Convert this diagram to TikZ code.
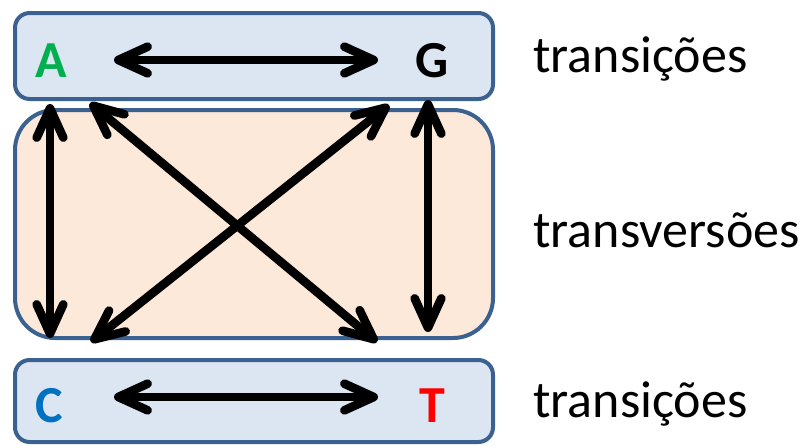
\documentclass[tikz,border=0pt]{standalone}
\usepackage{fontspec}
\setmainfont{Carlito}
\usetikzlibrary{arrows.meta}
\definecolor{frame}{HTML}{3B6190}
\definecolor{bluefill}{HTML}{DCE6F2}
\definecolor{peachfill}{HTML}{FDE9D9}
\definecolor{agreen}{HTML}{00B050}
\definecolor{cblue}{HTML}{0070C0}
\definecolor{tred}{HTML}{FF0000}
\tikzset{
  panel/.style={draw=frame, line width=3pt},
  base/.style={font=\fontsize{39}{47}\selectfont\bfseries, anchor=base, inner sep=0pt},
  caption/.style={font=\fontsize{39}{47}\selectfont, anchor=base west, inner sep=0pt},
  mutarrow/.style={line width=6.5pt,
    arrows={Straight Barb[length=22pt, width=20pt, line cap=round, line join=round]-Straight Barb[length=22pt, width=20pt, line cap=round, line join=round]}}
}
\begin{document}
\begin{tikzpicture}[x=0.75pt, y=-0.75pt]
\useasboundingbox (0,0) rectangle (803,446);
% three panels
\draw[panel, fill=bluefill, rounded corners=11pt] (15,13) rectangle (493,99);
\draw[panel, fill=peachfill, rounded corners=30pt] (15,110) rectangle (493,338);
\draw[panel, fill=bluefill, rounded corners=11pt] (15,360) rectangle (493,442);
% bases
\node[base, text=agreen] (A) at (51,77) {A};
\node[base] (G) at (432,77) {G};
\node[base, text=cblue] (C) at (49,422) {C};
\node[base, text=tred] (T) at (432,422) {T};
% arrow end points
\coordinate (aR) at (114,60);
\coordinate (gL) at (378,60);
\coordinate (cR) at (114,397);
\coordinate (tL) at (378,397);
\coordinate (aDown) at (50,104);
\coordinate (cUp) at (50,338);
\coordinate (gDown) at (428,100);
\coordinate (tUp) at (428,332);
\coordinate (aDiag) at (90,103);
\coordinate (tDiag) at (377,342);
\coordinate (gDiag) at (389,105);
\coordinate (cDiag) at (91,342);
% transitions and transversions
\draw[mutarrow] (aR) -- (gL);
\draw[mutarrow] (cR) -- (tL);
\draw[mutarrow] (aDown) -- (cUp);
\draw[mutarrow] (gDown) -- (tUp);
\draw[mutarrow] (aDiag) -- (tDiag);
\draw[mutarrow] (gDiag) -- (cDiag);
% captions
\node[caption] (l1) at (533,72) {transições};
\node[caption] (l2) at (533,247) {transversões};
\node[caption] (l3) at (533,417) {transições};
\end{tikzpicture}
\end{document}
